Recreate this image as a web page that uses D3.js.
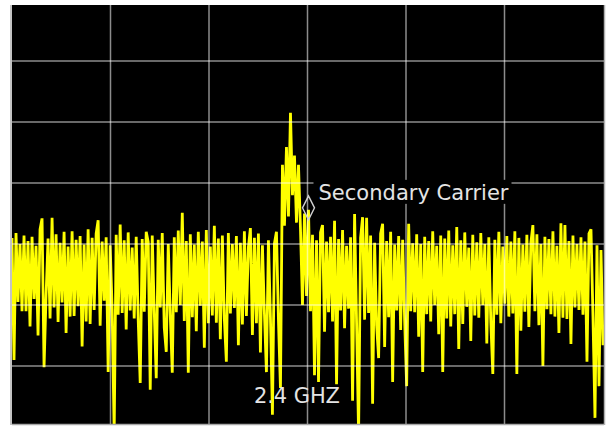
<!DOCTYPE html>
<html>
<head>
<meta charset="utf-8">
<script src="https://cdn.jsdelivr.net/npm/d3@7"></script>
<style>
  body { margin: 0; background: #fff; }
  svg { display: block; }
  .grid line { stroke: #fff; stroke-opacity: 0.55; stroke-width: 1.5px; }
  .trace { fill: none; stroke: #ffff00; stroke-width: 2.8px; stroke-linejoin: miter; stroke-miterlimit: 2; }
  .lbl { fill: #e4e4e4; font-family: "DejaVu Sans", Verdana, sans-serif; font-size: 21px; }
</style>
</head>
<body>
<svg id="chart" width="608" height="427"></svg>
<script>
// trace samples in dBm, left to right across the span
var traceDbm = [
  -59.0, -79.0, -58.2, -69.5, -60.0, -71.0, -58.6, -71.0, -59.5, -73.5,
  -58.8, -69.0, -60.3, -75.0, -57.6, -55.8, -80.2, -68.5, -59.1, -72.2,
  -55.7, -70.4, -58.4, -72.8, -59.8, -69.6, -58.0, -74.6, -60.4, -71.9,
  -57.9, -71.8, -59.3, -70.2, -58.7, -76.8, -60.1, -72.7, -57.6, -73.1,
  -59.0, -70.8, -58.3, -56.1, -73.4, -59.6, -69.3, -58.9, -81.0, -60.2,
  -70.8, -91.0, -58.5, -71.6, -56.8, -71.3, -59.4, -74.0, -58.1, -70.9,
  -60.6, -72.2, -58.8, -72.4, -82.8, -59.2, -71.1, -58.0, -59.7, -83.9,
  -58.6, -70.9, -82.0, -59.3, -70.4, -58.2, -73.7, -77.7, -60.0, -71.6,
  -81.1, -58.9, -71.2, -57.8, -70.0, -54.9, -72.6, -59.5, -81.1, -58.4,
  -72.0, -60.1, -74.3, -58.0, -70.1, -59.6, -77.0, -57.7, -73.0, -60.4,
  -71.7, -57.0, -72.9, -59.1, -75.6, -58.6, -72.3, -79.3, -58.2, -71.4,
  -60.0, -70.5, -58.7, -76.6, -59.8, -73.2, -57.9, -71.8, -60.5, -57.4,
  -74.9, -59.0, -73.0, -58.3, -77.8, -60.2, -71.4, -81.0, -59.4, -72.0,
  -88.0, -59.9, -58.0, -72.5, -83.6, -47.0, -57.0, -44.1, -55.5, -38.5,
  -52.0, -45.5, -56.5, -47.0, -57.5, -70.0, -55.0, -68.5, -54.4, -71.0,
  -58.5, -81.5, -59.4, -82.6, -58.1, -56.9, -74.4, -59.6, -71.2, -58.8,
  -72.7, -56.2, -83.0, -59.2, -70.9, -57.7, -73.8, -60.3, -70.6, -58.9,
  -85.7, -55.1, -72.9, -91.0, -59.0, -55.6, -72.4, -55.7, -71.3, -58.6,
  -86.2, -59.8, -73.3, -78.7, -58.3, -56.7, -76.9, -59.5, -72.0, -58.0,
  -82.6, -60.1, -70.9, -58.7, -74.1, -59.3, -72.6, -83.3, -56.7, -71.0,
  -59.9, -71.2, -58.4, -75.2, -60.0, -81.0, -58.8, -71.5, -59.5, -72.7,
  -57.9, -70.0, -60.3, -74.8, -58.6, -81.0, -59.1, -72.2, -57.8, -73.5,
  -60.2, -71.5, -57.2, -77.2, -59.4, -73.1, -58.1, -70.3, -60.6, -75.9,
  -58.5, -71.7, -59.7, -72.1, -58.2, -70.0, -60.0, -76.3, -58.9, -72.8,
  -81.3, -59.3, -71.6, -58.0, -73.0, -60.4, -69.8, -58.7, -71.9, -59.6,
  -71.4, -57.9, -81.3, -59.0, -74.2, -60.1, -71.1, -58.5, -73.6, -59.8,
  -56.9, -71.0, -58.4, -73.3, -60.0, -80.0, -58.8, -70.7, -59.2, -71.5,
  -57.9, -71.9, -60.3, -74.6, -56.6, -72.1, -56.9, -72.3, -59.5, -76.4,
  -58.6, -70.4, -60.0, -70.8, -58.9, -71.6, -59.6, -79.3, -58.3, -57.6,
  -72.0, -88.5, -60.2, -83.3, -61.0, -76.6
];

// screen divisions: 6 across, reference -20 dBm, 10 dB/div
var freqDivs = [1, 2, 3, 4, 5];
var levelLines = [-30, -40, -50, -60, -70, -80];
var markerIndex = 148;
var markerText = "Secondary Carrier";
var centerText = "2.4 GHZ";

var svg = d3.select('#chart');
var plot = {left: 12, right: 604, top: 5, bottom: 424};

var divScale = d3.scaleLinear().domain([0, 6]).range([12, 603]);
var xScale = d3.scaleLinear().domain([0, traceDbm.length - 1]).range([12, 603]);
var yScale = d3.scaleLinear().domain([-90, -20]).range([427, 0]);

svg.append('defs').append('clipPath').attr('id', 'screen')
  .append('rect')
  .attr('x', plot.left).attr('y', plot.top)
  .attr('width', plot.right - plot.left).attr('height', plot.bottom - plot.top);

// black screen
svg.append('rect')
  .attr('x', plot.left).attr('y', plot.top)
  .attr('width', plot.right - plot.left).attr('height', plot.bottom - plot.top)
  .attr('fill', '#000');

var g = svg.append('g').attr('clip-path', 'url(#screen)');

var line = d3.line()
  .x((d, i) => xScale(i))
  .y(d => yScale(d));

g.append('path')
  .datum(traceDbm)
  .attr('class', 'trace')
  .attr('d', line);

// graticule drawn over the trace
var grid = g.append('g').attr('class', 'grid');
grid.selectAll('.vline')
  .data(freqDivs)
  .enter().append('line')
  .attr('x1', d => divScale(d)).attr('x2', d => divScale(d))
  .attr('y1', plot.top).attr('y2', plot.bottom);
grid.selectAll('.hline')
  .data(levelLines)
  .enter().append('line')
  .attr('x1', plot.left).attr('x2', plot.right)
  .attr('y1', d => yScale(d)).attr('y2', d => yScale(d));

// screen frame
svg.append('line').attr('x1', 11).attr('x2', 11).attr('y1', plot.top).attr('y2', plot.bottom + 1)
  .attr('stroke', '#c4c4c4').attr('stroke-width', 2);
svg.append('line').attr('x1', plot.left).attr('x2', plot.right).attr('y1', plot.bottom + 0.5).attr('y2', plot.bottom + 0.5)
  .attr('stroke', '#a8a8a8').attr('stroke-width', 1.5);
svg.append('line').attr('x1', plot.right + 0.5).attr('x2', plot.right + 0.5).attr('y1', plot.top).attr('y2', plot.bottom + 1)
  .attr('stroke', '#b0b0b0').attr('stroke-width', 1.5);

// marker diamond + label
var mx = xScale(markerIndex), my = yScale(traceDbm[markerIndex]) - 2;
svg.append('rect')
  .attr('x', mx + 5).attr('y', my - 28)
  .attr('width', 198).attr('height', 24)
  .attr('fill', '#000');
svg.append('path')
  .attr('d', 'M' + mx + ',' + (my - 12) + 'L' + (mx + 6) + ',' + my + 'L' + mx + ',' + (my + 12) + 'L' + (mx - 6) + ',' + my + 'Z')
  .attr('fill', 'none')
  .attr('stroke', '#cfcfcf')
  .attr('stroke-width', 1.4);
svg.append('text')
  .attr('class', 'lbl')
  .attr('x', mx + 10).attr('y', my - 8)
  .attr('textLength', 190)
  .text(markerText);

svg.append('text')
  .attr('class', 'lbl')
  .attr('x', 254).attr('y', 403)
  .attr('textLength', 86)
  .text(centerText);
</script>
</body>
</html>
